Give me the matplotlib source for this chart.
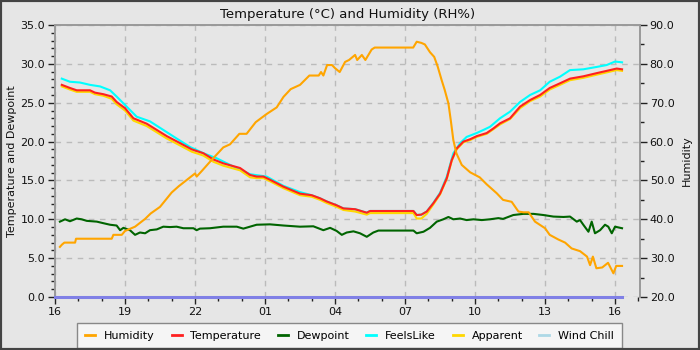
import matplotlib
matplotlib.use("Agg")
import matplotlib.pyplot as plt
from matplotlib.lines import Line2D
from matplotlib.patches import Rectangle
from matplotlib.ticker import MultipleLocator, FixedLocator, FormatStrFormatter

# ---- data (hours since 16:00) ----
xtick_hours = [0, 3, 6, 9, 12, 15, 18, 21, 24]
xtick_labels = ["16", "19", "22", "01", "04", "07", "10", "13", "16"]

temp_t = [0.29, 0.64, 0.93, 1.5, 1.71, 2.07, 2.43, 2.64, 3.0, 3.36, 3.93, 4.36, 4.79, 5.36,
          5.86, 6.36, 6.79, 7.21, 7.93, 8.36, 8.64, 8.93, 9.21, 9.79, 10.5, 11.0, 11.36,
          11.64, 12.07, 12.36, 12.86, 13.36, 13.5, 15.36, 15.5, 15.7, 15.93, 16.21, 16.5,
          16.79, 17.0, 17.21, 17.5, 17.79, 18.07, 18.5, 18.79, 19.07, 19.5, 19.93, 20.36,
          20.79, 21.2, 21.64, 22.07, 22.64, 23.2, 23.64, 24.07, 24.3]
temperature = [27.3, 26.9, 26.6, 26.6, 26.3, 26.1, 25.8, 25.1, 24.3, 23.0, 22.3, 21.5, 20.7,
               19.8, 19.0, 18.5, 17.7, 17.2, 16.6, 15.7, 15.5, 15.5, 15.1, 14.2, 13.3, 13.1,
               12.7, 12.3, 11.8, 11.4, 11.3, 10.85, 11.07, 11.07, 10.55, 10.6, 11.0, 12.05,
               13.3, 15.3, 17.6, 19.1, 20.0, 20.3, 20.7, 21.1, 21.7, 22.35, 23.0, 24.5, 25.35,
               26.0, 26.9, 27.5, 28.1, 28.4, 28.8, 29.1, 29.4, 29.3]
apparent = [27.1, 26.7, 26.4, 26.4, 26.1, 25.9, 25.5, 24.8, 24.0, 22.7, 22.0, 21.2, 20.4,
            19.5, 18.7, 18.2, 17.4, 16.9, 16.3, 15.4, 15.3, 15.3, 14.9, 14.0, 13.1, 12.9,
            12.5, 12.1, 11.6, 11.2, 11.0, 10.6, 10.8, 10.8, 10.1, 10.1, 10.7, 11.9,
            13.2, 15.2, 17.5, 19.0, 19.9, 20.2, 20.6, 21.0, 21.6, 22.2, 22.9, 24.3, 25.2,
            25.8, 26.7, 27.3, 27.9, 28.2, 28.6, 28.9, 29.2, 29.1]

feels_t = [0.29, 0.64, 1.07, 1.5, 1.93, 2.36, 2.64, 3.07, 3.5, 4.07, 4.64, 5.21, 5.79, 6.36,
           6.93, 7.64, 8.36, 9.07, 9.79, 10.5, 11.0, 11.36, 11.64, 12.07, 12.36, 12.86, 13.36,
           13.5, 15.36, 15.5, 15.7, 15.93, 16.21, 16.5, 16.79, 17.07, 17.36, 17.64, 18.07,
           18.36, 18.64, 19.07, 19.5, 19.93, 20.36, 20.79, 21.2, 21.64, 22.07, 22.64, 23.2,
           23.64, 24.0, 24.3]
feelslike = [28.1, 27.7, 27.6, 27.3, 27.1, 26.6, 25.8, 24.5, 23.2, 22.6, 21.5, 20.4, 19.3,
             18.5, 17.85, 16.8, 15.8, 15.5, 14.3, 13.5, 13.1, 12.7, 12.3, 11.8, 11.4, 11.3,
             10.85, 11.07, 11.07, 10.55, 10.6, 11.0, 12.1, 13.4, 15.5, 18.5, 19.8, 20.6,
             21.1, 21.5, 21.9, 23.0, 23.85, 25.1, 26.0, 26.6, 27.7, 28.35, 29.2, 29.3, 29.6,
             29.85, 30.3, 30.2]

dew_t = [0.21, 0.43, 0.64, 0.93, 1.14, 1.36, 1.79, 2.07, 2.36, 2.64, 2.79, 2.93, 3.21, 3.43,
         3.64, 3.86, 4.07, 4.36, 4.64, 4.93, 5.21, 5.5, 5.93, 6.07, 6.21, 6.64, 7.21, 7.79,
         8.07, 8.64, 9.21, 9.79, 10.5, 11.07, 11.5, 11.79, 12.07, 12.29, 12.5, 12.79, 13.07,
         13.36, 13.64, 13.86, 15.36, 15.5, 15.79, 16.07, 16.36, 16.64, 16.86, 17.07, 17.36,
         17.64, 17.93, 18.29, 18.64, 19.0, 19.2, 19.64, 20.07, 20.5, 20.93, 21.36, 21.79,
         22.07, 22.36, 22.5, 22.64, 22.86, 23.0, 23.14, 23.36, 23.57, 23.71, 23.86, 24.0, 24.3]
dewpoint = [9.7, 10.0, 9.75, 10.1, 10.0, 9.8, 9.7, 9.5, 9.3, 9.2, 8.6, 8.9, 8.6, 8.0,
            8.3, 8.2, 8.6, 8.7, 9.05, 9.0, 9.05, 8.85, 8.85, 8.6, 8.8, 8.85, 9.05, 9.05,
            8.8, 9.3, 9.35, 9.2, 9.05, 9.1, 8.6, 8.9, 8.5, 8.0, 8.3, 8.45, 8.2,
            7.75, 8.3, 8.55, 8.55, 8.2, 8.4, 8.9, 9.7, 10.0, 10.3, 10.0, 10.1,
            9.9, 10.0, 9.9, 10.0, 10.15, 10.05, 10.55, 10.7, 10.7, 10.55, 10.35, 10.3,
            10.35, 9.7, 9.9, 9.3, 8.4, 9.7, 8.2, 8.6, 9.3, 9.05, 8.2, 9.05, 8.85]

hum_t = [0.21, 0.3, 0.4, 0.86, 0.9, 2.43, 2.5, 2.86, 3.0, 3.43, 3.86, 4.1, 4.5, 5.0, 5.3,
         5.64, 6.0, 6.07, 6.3, 6.64, 7.21, 7.5, 7.9, 8.21, 8.6, 9.07, 9.5, 9.79, 10.1, 10.5,
         10.9, 11.3, 11.4, 11.5, 11.66, 11.87, 12.0, 12.2, 12.43, 12.6, 12.86, 12.95, 13.15,
         13.3, 13.57, 13.7, 15.35, 15.5, 15.7, 15.85, 16.07, 16.25, 16.4, 16.57, 16.7, 16.86,
         16.96, 17.07, 17.2, 17.43, 17.79, 18.2, 18.5, 18.93, 19.2, 19.57, 19.86, 20.07, 20.3,
         20.57, 21.0, 21.2, 21.57, 21.86, 22.14, 22.5, 22.8, 22.93, 23.05, 23.2, 23.45, 23.7,
         23.93, 24.05, 24.3]
humidity = [32.9, 33.5, 34.0, 34.0, 35.0, 35.0, 36.0, 36.0, 37.0, 38.1, 40.1, 41.5, 43.2,
            46.9, 48.5, 50.1, 51.8, 51.0, 52.5, 54.8, 58.5, 59.3, 62.0, 62.0, 65.0, 67.1,
            68.8, 71.5, 73.5, 74.6, 77.0, 77.0, 77.9, 77.0, 79.7, 79.7, 78.9, 77.9, 80.5,
            81.0, 82.3, 81.0, 82.3, 81.0, 83.7, 84.2, 84.2, 85.7, 85.4, 85.0, 83.0, 81.8,
            79.3, 75.8, 73.3, 69.8, 65.5, 60.4, 57.0, 54.0, 52.1, 50.8, 49.0, 46.7, 45.0,
            44.5, 42.0, 41.8, 41.8, 39.4, 37.7, 36.0, 34.8, 34.0, 32.5, 31.8, 30.4, 28.2,
            30.4, 27.4, 27.6, 28.8, 26.1, 28.0, 28.0]

windchill_t = [0.0, 24.3]
windchill = [0.0, 0.0]

series_names = ["Humidity", "Temperature", "Dewpoint", "FeelsLike", "Apparent", "Wind Chill"]
series_colors = ["#ffa500", "#ff2020", "#006400", "#00ffff", "#ffd700", "#add8e6"]

# ---- figure ----
bg = "#e6e6e6"
fig = plt.figure(figsize=(7, 3.5), dpi=100, facecolor=bg)
ax = fig.add_axes([0.0786, 0.1514, 0.8357, 0.7771], facecolor=bg)
ax2 = ax.twinx()
ax2.patch.set_visible(False)

lw = 1.5
ax.plot(feels_t, feelslike, color=series_colors[3], lw=lw, zorder=3)
ax.plot(temp_t, apparent, color=series_colors[4], lw=lw, zorder=4)
ax.plot(temp_t, temperature, color=series_colors[1], lw=lw, zorder=5)
ax.plot(dew_t, dewpoint, color=series_colors[2], lw=lw, zorder=5)
ax2.plot(hum_t, humidity, color=series_colors[0], lw=lw, zorder=3)
# wind chill drawn on the top axes so it sits over the bottom spine
ax2.plot(windchill_t, [20 + 2 * v for v in windchill], color="#8080e6", lw=2.2,
         zorder=6, clip_on=False)

ax.set_xlim(0, 25.07)
ax.set_ylim(0, 35)
ax2.set_ylim(20, 90)

ax.xaxis.set_major_locator(FixedLocator(xtick_hours))
ax.set_xticklabels(xtick_labels)
ax.xaxis.set_minor_locator(MultipleLocator(1))
ax.yaxis.set_major_locator(MultipleLocator(5))
ax.yaxis.set_minor_locator(MultipleLocator(1))
ax.yaxis.set_major_formatter(FormatStrFormatter("%.1f"))
ax2.yaxis.set_major_locator(MultipleLocator(10))
ax2.yaxis.set_minor_locator(MultipleLocator(5))
ax2.yaxis.set_major_formatter(FormatStrFormatter("%.1f"))

for a in (ax, ax2):
    a.tick_params(which="major", length=5, width=1, color="#222222", labelsize=8,
                  labelcolor="#111111", pad=2)
    a.tick_params(which="minor", length=3, width=1, color="#222222")
    for s in a.spines.values():
        s.set_color("#999999")
        s.set_linewidth(1.2)
ax2.spines["bottom"].set_visible(False)
ax.spines["bottom"].set_visible(False)

ax.grid(True, which="major", color="#bbbbbb", linestyle=(0, (4, 4)), linewidth=1)
ax.set_axisbelow(True)

ax.set_ylabel("Temperature and Dewpoint", fontsize=8, color="#111111")
ax.yaxis.set_label_coords(-0.065, 0.5)
ax2.set_ylabel("Humidity", fontsize=8, color="#111111")
ax2.yaxis.set_label_coords(1.072, 0.5)
ax.set_title("Temperature (\u00b0C) and Humidity (RH%)", fontsize=9.5, pad=5, color="#111111")

handles = [Line2D([0], [0], color=c, lw=2) for c in series_colors]
leg = fig.legend(handles, series_names, loc="center", bbox_to_anchor=(0.4996, 0.0414),
                 ncol=6, fontsize=8, frameon=True, fancybox=False, framealpha=1,
                 facecolor="#f5f5f5", edgecolor="#888888", handlelength=0.9,
                 handletextpad=0.8, columnspacing=1.5, borderpad=0.7)
leg.get_frame().set_linewidth(1)

fig.patches.append(Rectangle((0, 0), 1, 1, transform=fig.transFigure, fill=False,
                             edgecolor="#444444", linewidth=3, zorder=10))

fig.savefig("out.png", dpi=100, facecolor=bg)
